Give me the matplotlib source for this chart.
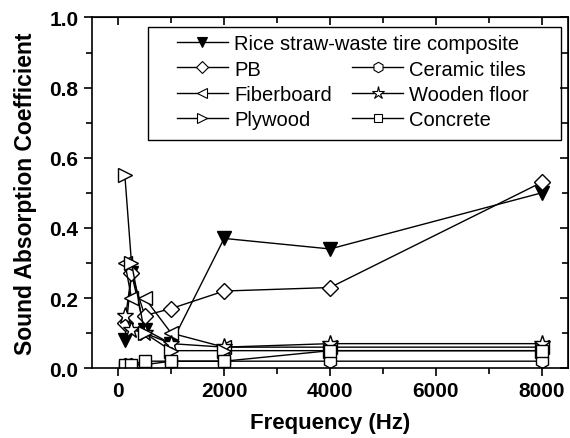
import matplotlib
matplotlib.use('Agg')
import matplotlib.pyplot as plt
from matplotlib.lines import Line2D
from matplotlib.patches import Rectangle
from matplotlib.ticker import MultipleLocator

plt.rcParams['font.family'] = ['Liberation Sans', 'DejaVu Sans']

freq = [125, 250, 500, 1000, 2000, 4000, 8000]

rice_straw = [0.08, 0.27, 0.11, 0.07, 0.37, 0.34, 0.50]
pb = [0.13, 0.27, 0.15, 0.17, 0.22, 0.23, 0.53]
ceramic = [0.01, 0.01, 0.01, 0.02, 0.02, 0.02, 0.02]
fiberboard = [0.30, 0.20, 0.20, 0.10, 0.06, 0.06, 0.06]
wooden = [0.15, 0.11, 0.10, 0.07, 0.06, 0.07, 0.07]
plywood = [0.55, 0.30, 0.10, 0.05, 0.05, 0.05, 0.05]
concrete = [0.01, 0.01, 0.02, 0.02, 0.02, 0.05, 0.05]

series = [
    ('Rice straw-waste tire composite', rice_straw, 'v', 'black'),
    ('PB', pb, 'D', 'white'),
    ('Ceramic tiles', ceramic, 'h', 'white'),
    ('Fiberboard', fiberboard, '<', 'white'),
    ('Wooden floor', wooden, '*', 'white'),
    ('Plywood', plywood, '>', 'white'),
    ('Concrete', concrete, 's', 'white'),
]

fig = plt.figure(figsize=(5.7, 4.39), dpi=100)
ax = fig.add_axes([0.161, 0.159, 0.836, 0.799])

sizes = {'v': 10, 'D': 8.5, 'h': 10, '<': 10.5, '*': 12.5, '>': 10.5, 's': 8.5}
handles = {}
for name, vals, mk, fc in series:
    ax.plot(freq, vals, color='black', lw=1.0, marker=mk,
            markersize=sizes[mk], markerfacecolor=fc,
            markeredgecolor='black', markeredgewidth=1.0)
    handles[name] = Line2D([], [], color='black', lw=1.0, marker=mk,
                           markersize=sizes[mk] * 0.75, markerfacecolor=fc,
                           markeredgecolor='black', markeredgewidth=0.8)

ax.set_xlim(-500, 8500)
ax.set_ylim(0, 1.0)
ax.xaxis.set_major_locator(MultipleLocator(2000))
ax.xaxis.set_minor_locator(MultipleLocator(1000))
ax.yaxis.set_minor_locator(MultipleLocator(0.1))
ax.set_yticks([0.0, 0.2, 0.4, 0.6, 0.8, 1.0])
ax.set_yticklabels(['0.0', '0.2', '0.4', '0.6', '0.8', '1.0'])

ax.tick_params(which='both', direction='out', width=1.2, labelsize=15)
ax.tick_params(which='major', length=6)
ax.tick_params(which='minor', length=4)
for lab in ax.get_xticklabels() + ax.get_yticklabels():
    lab.set_fontweight('bold')
for sp in ax.spines.values():
    sp.set_linewidth(1.2)

top = ax.secondary_xaxis('top')
top.xaxis.set_major_locator(MultipleLocator(2000))
top.xaxis.set_minor_locator(MultipleLocator(1000))
top.tick_params(which='both', direction='in', labeltop=False, width=1.2)
top.tick_params(which='major', length=6)
top.tick_params(which='minor', length=4)
right = ax.secondary_yaxis('right')
right.yaxis.set_major_locator(MultipleLocator(0.2))
right.yaxis.set_minor_locator(MultipleLocator(0.1))
right.tick_params(which='both', direction='in', labelright=False, width=1.2)
right.tick_params(which='major', length=6)
right.tick_params(which='minor', length=4)

ax.set_xlabel('Frequency (Hz)', fontsize=16, fontweight='bold', labelpad=8)
ax.set_ylabel('Sound Absorption Coefficient', fontsize=16.5, fontweight='bold', labelpad=9)

# legend: one wide row, then two columns, in a single frame
leg_kw = dict(loc='upper left', frameon=False, fontsize=14.5, handlelength=2.55,
              handletextpad=0.3, borderaxespad=0, borderpad=0)
leg1 = ax.legend([handles['Rice straw-waste tire composite']],
                 ['Rice straw-waste tire composite'],
                 bbox_to_anchor=(0.178, 0.952), **leg_kw)
ax.add_artist(leg1)
names2 = ['PB', 'Fiberboard', 'Plywood', 'Ceramic tiles', 'Wooden floor', 'Concrete']
ax.legend([handles[n] for n in names2], names2, ncol=2,
          bbox_to_anchor=(0.178, 0.88), columnspacing=1.0,
          labelspacing=0.3, **leg_kw)
ax.add_patch(Rectangle((0.118, 0.651), 0.866, 0.323, transform=ax.transAxes,
                       fill=False, edgecolor='black', lw=1.0, zorder=5))

fig.savefig('out.png', dpi=100)
